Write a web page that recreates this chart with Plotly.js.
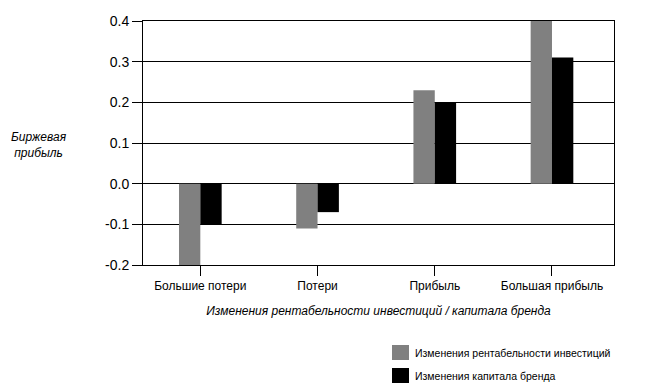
<!DOCTYPE html>
<html>
<head>
<meta charset="utf-8">
<script src="https://cdn.plot.ly/plotly-3.0.1.min.js"></script>
<style>html,body{margin:0;padding:0;background:#fff}#chart{width:660px;height:387px}</style>
</head>
<body>
<div id="chart"></div>
<script>
var categories = ["Большие потери", "Потери", "Прибыль", "Большая прибыль"];
var roiChange = [-0.2, -0.11, 0.23, 0.4];
var brandCapitalChange = [-0.1, -0.07, 0.2, 0.31];
var seriesNames = ["Изменения рентабельности инвестиций", "Изменения капитала бренда"];
var seriesColors = ["#808080", "#000000"];
var yTicks = [-0.2, -0.1, 0.0, 0.1, 0.2, 0.3, 0.4];
var yTickText = ["-0.2", "-0.1", "0.0", "0.1", "0.2", "0.3", "0.4"];

var font = "'Liberation Sans', Arial, sans-serif";
var traces = [roiChange, brandCapitalChange].map(function (vals, i) {
  return {
    type: "bar", x: categories, y: vals, name: seriesNames[i],
    marker: {color: seriesColors[i], line: {width: 0}},
    showlegend: false, hoverinfo: "none"
  };
});

var shapes = [], annotations = [];
seriesNames.forEach(function (n, i) {
  var y0 = 345 + i * 23;
  shapes.push({type: "rect", xref: "paper", yref: "paper",
    x0: (392 - 143) / 471, x1: (409 - 143) / 471,
    y0: (265 - y0) / 244, y1: (265 - (y0 + 15)) / 244,
    fillcolor: seriesColors[i], line: {width: 0}});
  annotations.push({xref: "paper", yref: "paper", x: (413 - 143) / 471, y: (265 - (y0 + 7.5)) / 244,
    xanchor: "left", yanchor: "middle", text: n, showarrow: false,
    font: {family: font, size: 10.5, color: "#000"}});
});
annotations.push({xref: "paper", yref: "paper", x: (39 - 143) / 471, y: (265 - 145) / 244,
  xanchor: "center", yanchor: "middle", align: "center", showarrow: false,
  text: "<i>Биржевая<br>прибыль</i>", font: {family: font, size: 12, color: "#000"}});

var layout = {
  width: 660, height: 387,
  margin: {l: 143, r: 46, t: 21, b: 122},
  paper_bgcolor: "#fff", plot_bgcolor: "#fff",
  barmode: "group", bargap: 0.636, bargroupgap: 0,
  font: {family: font, color: "#000"},
  xaxis: {
    type: "category", range: [-0.489, 3.529],
    showline: true, linecolor: "#000", linewidth: 1, mirror: true,
    ticks: "outside", ticklen: 10, tickcolor: "#000",
    tickfont: {family: font, size: 12, color: "#000"},
    showgrid: false, fixedrange: true,
    title: {text: "<i>Изменения рентабельности инвестиций / капитала бренда</i>",
      font: {family: font, size: 12, color: "#000"}, standoff: 14}
  },
  yaxis: {
    range: [-0.2, 0.4], tickmode: "array", tickvals: yTicks, ticktext: yTickText,
    showline: true, linecolor: "#000", linewidth: 1, mirror: true,
    ticks: "outside", ticklen: 10, tickcolor: "#000",
    showgrid: true, gridcolor: "#000", gridwidth: 1,
    zeroline: true, zerolinecolor: "#000", zerolinewidth: 1,
    tickfont: {family: font, size: 14, color: "#000"}, fixedrange: true
  },
  shapes: shapes,
  annotations: annotations
};
Plotly.newPlot("chart", traces, layout, {staticPlot: true, displayModeBar: false});
</script>
</body>
</html>
